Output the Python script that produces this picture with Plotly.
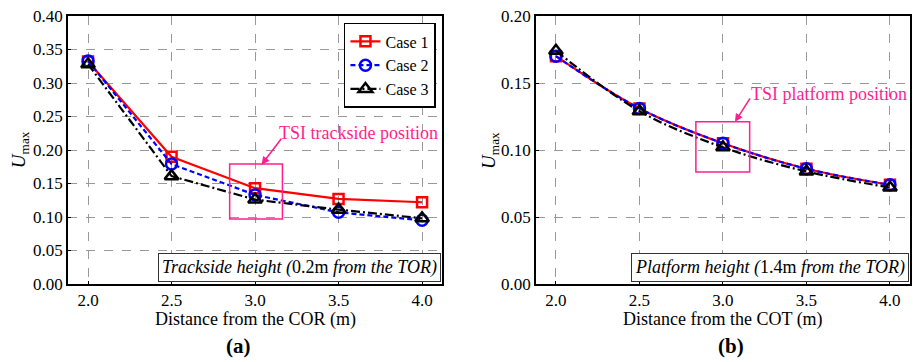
import plotly.graph_objects as go

# Distances (m) and peak gust values for each case
distance = [2.0, 2.5, 3.0, 3.5, 4.0]

trackside_case1 = [0.332, 0.190, 0.143, 0.127, 0.122]
trackside_case2 = [0.333, 0.179, 0.133, 0.107, 0.095]
trackside_case3 = [0.328, 0.161, 0.126, 0.111, 0.098]

platform_case1 = [0.170, 0.131, 0.105, 0.086, 0.074]
platform_case2 = [0.170, 0.131, 0.105, 0.086, 0.074]
platform_case3 = [0.174, 0.129, 0.102, 0.084, 0.072]

case_names = ["Case 1", "Case 2", "Case 3"]
left_ticks = [0.00, 0.05, 0.10, 0.15, 0.20, 0.25, 0.30, 0.35, 0.40]
right_ticks = [0.00, 0.05, 0.10, 0.15, 0.20]

FONT = "Times New Roman, Liberation Serif, serif"
PINK = "#ff1f8e"

styles = [
    dict(color="red", dash="solid", symbol="square-open", size=10),
    dict(color="blue", dash="5px,3px", symbol="circle-open", size=11),
    dict(color="black", dash="9px,3px,2px,3px", symbol="triangle-up-open", size=12),
]

fig = go.Figure()

for panel, series, shape in [
    ("1", [trackside_case1, trackside_case2, trackside_case3], "linear"),
    ("2", [platform_case1, platform_case2, platform_case3], "spline"),
]:
    for name, vals, st in zip(case_names, series, styles):
        fig.add_trace(go.Scatter(
            x=distance, y=vals, name=name,
            mode="lines+markers",
            xaxis="x" if panel == "1" else "x2",
            yaxis="y" if panel == "1" else "y2",
            showlegend=(panel == "1"),
            line=dict(color=st["color"], width=2.2, dash=st["dash"], shape=shape),
            marker=dict(symbol=st["symbol"], size=st["size"], color=st["color"],
                        line=dict(width=2.5, color=st["color"])),
        ))

axis_common = dict(
    showline=True, linecolor="black", linewidth=1.5, mirror=True,
    showgrid=True, gridcolor="#999999", griddash="dash", gridwidth=1,
    ticks="inside", ticklen=3, tickcolor="black", tickwidth=1,
    zeroline=False,
    tickfont=dict(family=FONT, size=17, color="black"),
)

fig.update_layout(
    width=913, height=362,
    margin=dict(l=68, r=1, t=16, b=78),
    paper_bgcolor="white", plot_bgcolor="white",
    font=dict(family=FONT, color="black"),
    xaxis=dict(domain=[0, 0.4443], range=[1.88, 4.12], tickvals=distance,
               ticktext=[f"{d:.1f}" for d in distance], **axis_common),
    yaxis=dict(range=[0, 0.40], tickvals=left_ticks,
               ticktext=[f"{t:.2f}" for t in left_ticks], **axis_common),
    xaxis2=dict(domain=[0.5557, 1.0], range=[1.88, 4.12], tickvals=distance,
                ticktext=[f"{d:.1f}" for d in distance], anchor="y2", **axis_common),
    yaxis2=dict(range=[0, 0.20], tickvals=right_ticks,
                ticktext=[f"{t:.2f}" for t in right_ticks], anchor="x2", **axis_common),
    legend=dict(x=0.437, y=0.974, xanchor="right", yanchor="top",
                bgcolor="white", bordercolor="black", borderwidth=1.5,
                font=dict(family=FONT, size=16, color="black"),
                tracegroupgap=0, itemwidth=30),
)

# Highlight boxes at the TSI measurement positions
fig.add_shape(type="rect", xref="x", yref="y", x0=2.848, x1=3.164, y0=0.097, y1=0.179,
              line=dict(color=PINK, width=1.5))
fig.add_shape(type="rect", xref="x2", yref="y2", x0=2.838, x1=3.160, y0=0.0836, y1=0.121,
              line=dict(color=PINK, width=1.5))

ann = []
# Pointer arrows
ann.append(dict(x=3.039, y=0.178, ax=3.164, ay=0.219, xref="x", yref="y", axref="x", ayref="y",
                text="", showarrow=True, arrowhead=2, arrowsize=1, arrowwidth=1.6, arrowcolor=PINK))
ann.append(dict(x=3.072, y=0.121, ax=3.168, ay=0.1396, xref="x2", yref="y2", axref="x2", ayref="y2",
                text="", showarrow=True, arrowhead=2, arrowsize=1, arrowwidth=1.6, arrowcolor=PINK))
ann.append(dict(x=3.618, y=0.2254, xref="x", yref="y", text="TSI trackside position",
                xanchor="center", yanchor="middle", showarrow=False,
                font=dict(family=FONT, size=18, color=PINK)))
ann.append(dict(x=3.635, y=0.1418, xref="x2", yref="y2", text="TSI platform position",
                xanchor="center", yanchor="middle", showarrow=False,
                font=dict(family=FONT, size=18, color=PINK)))

# Height labels inside each panel
ann.append(dict(x=0.443, y=0.006, xref="paper", yref="paper", xanchor="right", yanchor="bottom",
                text="<i>Trackside height (</i>0.2m<i> from the TOR)</i>", showarrow=False,
                bgcolor="white", bordercolor="#333", borderwidth=1, borderpad=3,
                font=dict(family=FONT, size=18, color="black")))
ann.append(dict(x=0.999, y=0.006, xref="paper", yref="paper", xanchor="right", yanchor="bottom",
                text="<i>Platform height (</i>1.4m<i> from the TOR)</i>", showarrow=False,
                bgcolor="white", bordercolor="#333", borderwidth=1, borderpad=3,
                font=dict(family=FONT, size=18, color="black")))

# Axis titles
for xc, label in [(0.2222, "Distance from the COR (m)"), (0.7779, "Distance from the COT (m)")]:
    ann.append(dict(x=xc, y=-0.134, xref="paper", yref="paper", text=label, showarrow=False,
                    xanchor="center", yanchor="middle",
                    font=dict(family=FONT, size=18, color="black")))
for xc in [-0.0568, 0.5011]:
    ann.append(dict(x=xc, y=0.5, xref="paper", yref="paper", text="<i>U</i><sub>max</sub>",
                    xanchor="center", yanchor="middle", textangle=-90, showarrow=False,
                    font=dict(family=FONT, size=19, color="black")))

# Panel labels
ann.append(dict(x=0.2026, y=-0.232, xref="paper", yref="paper", text="<b>(a)</b>", showarrow=False,
                xanchor="center", yanchor="middle", font=dict(family=FONT, size=21, color="black")))
ann.append(dict(x=0.7879, y=-0.232, xref="paper", yref="paper", text="<b>(b)</b>", showarrow=False,
                xanchor="center", yanchor="middle", font=dict(family=FONT, size=21, color="black")))

fig.update_layout(annotations=ann)
fig.write_html("out.html")
